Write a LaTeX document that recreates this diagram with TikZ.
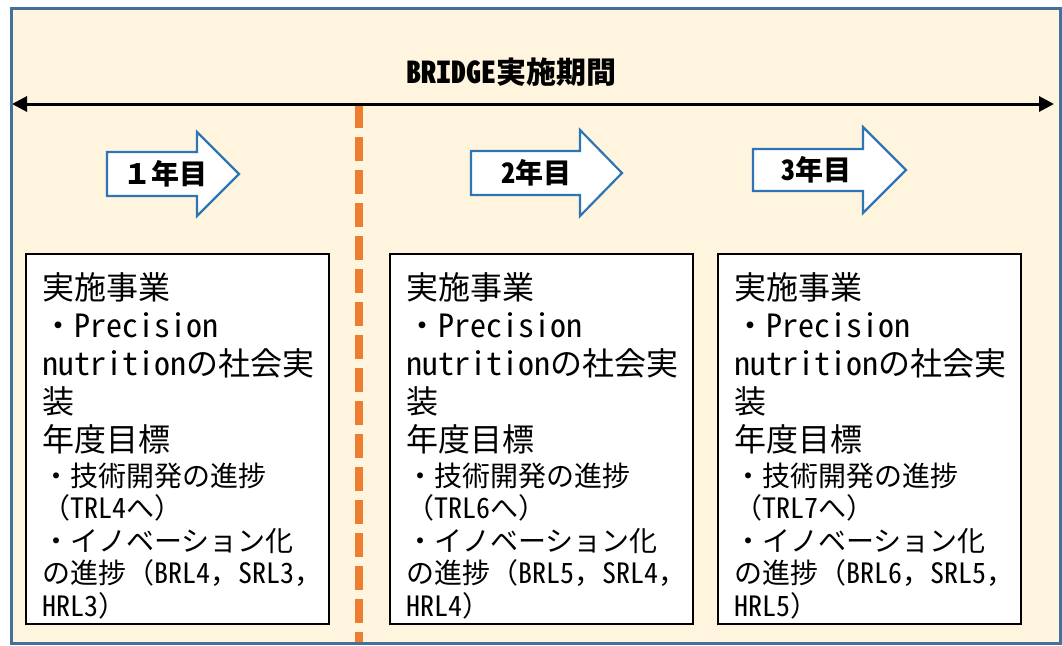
\documentclass[tikz,border=0pt]{standalone}
\usepackage{fontspec}
\setmainfont{Noto Sans CJK JP}
\newfontfamily\hw{Noto Sans CJK JP}[RawFeature=+hwid]
\usetikzlibrary{arrows.meta}
\definecolor{bgc}{HTML}{FFF5DE}
\definecolor{framec}{HTML}{41719C}
\definecolor{arrblue}{HTML}{2E75B6}
\definecolor{dashor}{HTML}{ED7D31}
\tikzset{
  yrbox/.style={draw=black, line width=1.6pt, fill=white, inner sep=0pt, anchor=north west},
  blockarrow/.style={draw=arrblue, line width=2.2pt, fill=white, line join=miter},
  yrlabel/.style={font=\bfseries\fontsize{28}{28}\selectfont, inner sep=0pt},
  bodytext/.style={anchor=base west, text width=285pt, inner sep=0pt, align=left},
  timeline/.style={line width=3pt, {Triangle[length=15pt,width=15pt]}-{Triangle[length=15pt,width=15pt]}},
  yeardiv/.style={dashor, line width=8pt, dash pattern=on 24pt off 9pt},
}
\newcommand{\boxbody}[3]{%
  \noindent\fontsize{32}{38}\selectfont 実施事業\\
  ・{\hw Precision}\\
  {\hw nutrition}の社会実\\
  装\\
  年度目標\par\vspace{2.5pt}%
  \noindent\fontsize{28}{32.5}\selectfont ・技術開発の進捗\\
  （{\hw TRL#1}へ）\\
  ・イノベーション化\\
  の進捗（{\hw BRL#2}，{\hw SRL#3}，\\
  {\hw HRL#3}）\par}
\begin{document}
\begin{tikzpicture}[x=1pt,y=-1pt]
\useasboundingbox (0,0) rectangle (1062,645);
% background frame
\fill[bgc] (11,8) rectangle (1060,643);
% year divider
\coordinate (dtop) at (359,104);
\coordinate (dbot) at (359,643);
\draw[yeardiv] (dtop) -- (dbot);
% timeline
\coordinate (tl) at (12,104);
\coordinate (tr) at (1054,104);
\draw[timeline] (tl) -- (tr);
\node[font=\bfseries\fontsize{30}{30}\selectfont, inner sep=0pt] (title) at (511,72) {{\hw BRIDGE}実施期間};
% block arrows
\draw[blockarrow] (107,152) -- (197,152) -- (197,132) -- (239,174) -- (197,216) -- (197,196) -- (107,196) -- cycle;
\node[yrlabel] (y1) at (165,174) {１年目};
\draw[blockarrow] (471,151) -- (580,151) -- (580,130) -- (622,173) -- (580,216) -- (580,195) -- (471,195) -- cycle;
\node[yrlabel] (y2) at (536,173) {{\hw 2}年目};
\draw[blockarrow] (753,149) -- (863,149) -- (863,127) -- (906,170) -- (863,213) -- (863,191) -- (753,191) -- cycle;
\node[yrlabel] (y3) at (816,170) {{\hw 3}年目};
% boxes
\node[yrbox, minimum width=303pt, minimum height=370pt] (b1) at (25,253) {};
\node[yrbox, minimum width=303pt, minimum height=370pt] (b2) at (389,253) {};
\node[yrbox, minimum width=303pt, minimum height=370pt] (b3) at (717,253) {};
\node[bodytext] (t1) at (42,299) {\boxbody{4}{4}{3}};
\node[bodytext] (t2) at (406,299) {\boxbody{6}{5}{4}};
\node[bodytext] (t3) at (734,299) {\boxbody{7}{6}{5}};
% frame border
\draw[framec, line width=3pt] (11,8) rectangle (1060,643);
\end{tikzpicture}
\end{document}
